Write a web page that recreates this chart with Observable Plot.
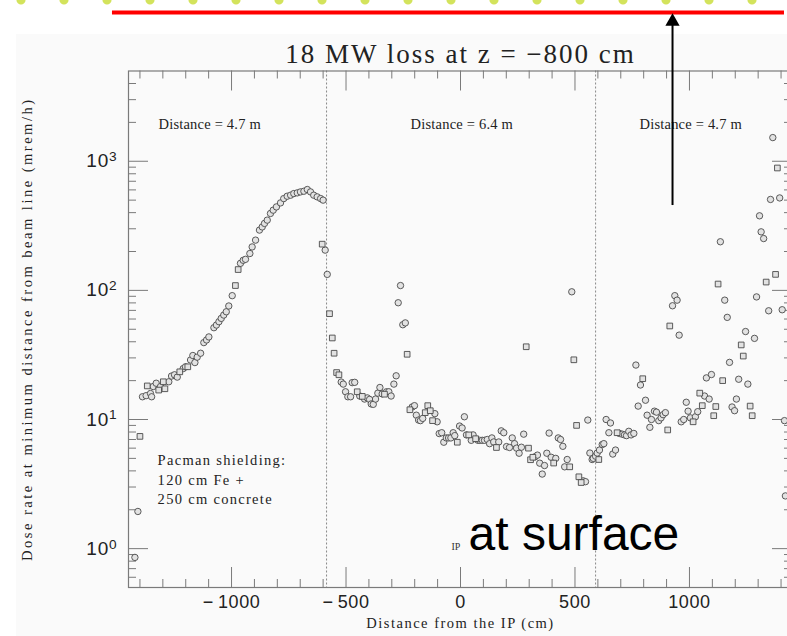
<!DOCTYPE html>
<html><head><meta charset="utf-8">
<script src="https://cdn.jsdelivr.net/npm/d3@7"></script>
<script src="https://cdn.jsdelivr.net/npm/@observablehq/plot@0.6"></script>
<style>
html,body{margin:0;padding:0;background:#fff;overflow:hidden;width:787px;height:636px;}
#wrap{position:relative;width:787px;height:636px;overflow:hidden;}
#panel{position:absolute;left:16px;top:34px;right:0;bottom:0;background:#fafafa;}
#chart{position:absolute;left:0;top:0;}
#dots{position:absolute;left:0;top:0;width:787px;height:6px;background-image:radial-gradient(circle at 21px 0px,#d3e35c 0,#d3e35c 4px,rgba(211,227,92,0) 5px);background-size:43px 6px;background-repeat:repeat-x;}
</style></head>
<body>
<div id="wrap"><div id="panel"></div><div id="chart"></div><div id="dots"></div></div>
<script>
// ---- data: distance from IP (cm), dose rate (mrem/h), marker shape (o = circle, s = square)
const dist = [
 -1422,-1409,-1400,-1389,-1373,-1368,-1354,-1349,-1342,-1329,-1318,-1310,-1298,-1291,-1274,-1262,-1249,-1237,-1226,-1211,
 -1201,-1191,-1179,-1169,-1160,-1150,-1135,-1121,-1109,-1099,-1077,-1066,-1055,-1045,-1034,-1023,-1012,-997,-983,-971,
 -961,-949,-939,-920,-910,-895,-878,-866,-856,-844,-830,-818,-804,-786,-772,-757,-742,-728,-713,-699,
 -684,-669,-655,-641,-626,-611,-600,
 -604,-591,-582,-572,-560,-552,-541,-531,-521,-512,-502,-492,-480,-473,-462,-451,-440,-429,-419,-407,
 -397,-390,-381,-371,-361,-352,-342,-332,-323,-313,-303,-291,-281,-272,-262,-252,-241,-233,-221,-211,
 -201,-193,-183,-175,-165,-154,-143,-132,-122,-112,-102,-93,-82,-73,-62,-52,-42,-32,-25,-14,
 -4,7,17,26,36,47,55,66,76,84,95,105,117,127,137,145,157,167,178,189,
 201,214,226,236,245,256,266,276,287,297,306,316,326,336,346,357,367,377,387,396,
 407,416,427,437,447,455,466,477,486,495,507,517,527,536,546,556,565,575,
 580,590,597,604,607,619,626,636,648,655,665,677,684,694,706,716,725,735,745,757,
 766,776,786,796,808,815,827,834,847,856,866,876,885,895,905,914,926,936,946,955,
 964,975,986,994,1004,1016,1026,1036,1045,1056,1066,1074,1086,1096,1106,1115,1125,1135,1145,1154,
 1165,1175,1186,1197,1205,1215,1226,1235,1245,1255,1265,1274,1284,1293,1306,1313,1324,1335,1346,1354,
 1364,1376,1384,1394,1405,1415,1419
];
const dose = [
 0.855,1.94,7.4,15.0,15.3,18.2,15.9,15.0,18.0,19.1,16.9,18.0,19.6,17.3,19.6,21.7,22.2,21.3,23.4,24.8,
 25.6,25.6,28.9,31.3,27.6,30.4,32.6,39.4,41.3,43.6,51.4,53.9,57.2,60.7,64.4,68.3,75.7,91,109,145,
 162,171,174,193,217,245,293,310,330,350,394,418,443,476,514,536,546,562,569,579,
 586,604,579,546,530,514,500,
 228,205,133,66,42.8,32.6,23.1,22.2,19.5,18.8,16.4,15.0,15.0,19.3,19.4,16.4,15.2,15.1,14.4,14.7,
 14.3,13.2,13.1,14.4,16.0,17.7,15.8,15.7,16.4,16.4,15.2,18.8,21.8,80.2,109,54.2,56,32,11.9,12.5,
 12.8,10.8,9.9,9.8,10.2,11.3,12.8,11.7,9.8,11.1,9.6,7.78,7.9,6.67,7.2,7.2,7.2,7.9,7.5,6.67,
 8.9,8.6,10.5,7.6,7.6,6.9,7.6,7.1,6.9,6.9,6.9,6.9,7.0,6.5,7.2,6.7,6.07,6.7,8.17,7.9,
 6.17,6.07,7.2,6.5,6.0,5.48,6.1,7.7,36.6,6.0,4.88,5.1,5.15,5.3,4.59,3.78,4.4,5.48,7.85,5.1,
 4.6,5.0,7.2,7.0,6.2,4.3,4.9,4.3,97.5,29,9.0,3.6,3.25,3.35,3.3,9.9,5.5,4.9,
 5.0,5.2,5.5,4.9,5.8,6.4,6.5,10.0,7.9,9.4,5.4,5.8,7.9,7.8,7.7,7.6,7.5,8.1,7.6,7.8,
 26.4,12.7,18.5,20.7,14.1,10.8,8.7,10.0,11.6,11.4,9.8,10.3,10.9,11.3,8.3,53,76,91,84,45,
 9.6,10.0,13.6,11.6,10.3,9.6,10.5,11.5,16.0,12.8,15.2,21,14.4,22.3,10.7,12.6,112,238,20,84,
 61.8,27.7,12.5,11.7,14.4,20.5,37.8,31,48,18.8,12.7,10.7,42.5,89,378,284,252,116,69.5,506,
 1525,133,887,520,70.8,9.8,2.56
];
const shape = [
 "oosoosoooosossooooso",
 "osoooooooooooooooooss".slice(0, 18) + "ss",
 "oooooooooooooooooooo",
 "ooooooo",
 "soosssssooooooosos oo".replace(" ", ""),
 "ooooooosoooooooooss o".replace(" ", ""),
 "ooooossssoooooooooos",
 "oooosoosoooooooosooo",
 "oooooooossssoooooooo",
 "soooooosossssoooooos".slice(0, 18),
 "ooosoooooooosooooooo",
 "ooosoooooooooossoooo",
 "ooooosoossoooossssoso".slice(0, 17) + "oso",
 "oooooossoossooooosoo",
 "ossoooo"
].join("").split("");

// vertical section boundaries (cm) and section labels
const boundaries = [-585, 590];
const sectionLabels = ["Distance = 4.7 m", "Distance = 6.4 m", "Distance = 4.7 m"];
const sectionLabelX = [-1319, -218, 782];
const sectionLabelY = 1930;
const noteLines = ["Pacman shielding:", "120 cm Fe +", "250 cm concrete"];
const noteY = [4.81, 3.37, 2.40];
const noteX = -1323;
const xTicks = [-1000, -500, 0, 500, 1000];
const yTicks = [1, 10, 100, 1000];
const title = "18 MW loss at z = \u2212800 cm";
const xLabel = "Distance from the IP (cm)";
const yLabel = "Dose rate at minimum distance from beam line (mrem/h)";
// slide annotations (in chart units): red surface line, arrow at z, "at surface" label
const surfaceY = 14190, surfaceX = [-1520, 1415];
const arrowX = 926, arrowFrom = 454, arrowTip = 12080;

const X0 = -1450, X1 = 1450, Y0 = 0.5, Y1 = 5000;
const W = 795, H = 636, mL = 128, mR = 3, mT = 70.5, mB = 49;
const plotW = W - mL - mR, plotH = H - mT - mB;
const cmPerPx = (X1 - X0) / plotW;
const decPerPx = Math.log10(Y1 / Y0) / plotH;
const up = px => Y0 * 10 ** (px * decPerPx);
const down = px => Y1 / 10 ** (px * decPerPx);

const data = dist.map((d, i) => ({x: d, y: dose[i], s: shape[i] || "o"}));
const majorX = d3.range(-1000, 1001, 500);
const minorX = d3.range(-1400, 1401, 100).filter(v => v % 500 !== 0);
const minorY = [];
for (const dec of [0.1, 1, 10, 100, 1000]) for (let k = 2; k <= 9; k++) { const v = k * dec; if (v > Y0 && v < Y1) minorY.push(v); }
const grey = "#7a7a7a";
const serif = "'Liberation Serif', 'DejaVu Serif', serif";
const sans = "'Liberation Sans', Arial, sans-serif";

const chart = Plot.plot({
  width: W, height: H, marginLeft: mL, marginRight: mR, marginTop: mT, marginBottom: mB,
  style: {maxWidth: "none", overflow: "visible", background: "transparent", fontFamily: sans},
  x: {domain: [X0, X1], axis: null},
  y: {type: "log", domain: [Y0, Y1], axis: null},
  marks: [
    Plot.ruleX(boundaries, {stroke: "#888", strokeDasharray: "2,2", strokeWidth: 1}),
    // ticks (inside frame, all four sides)
    Plot.ruleX(majorX, {x: d => d, y1: Y0, y2: up(20), stroke: grey}),
    Plot.ruleX(majorX, {x: d => d, y1: Y1, y2: down(20), stroke: grey}),
    Plot.ruleX(minorX, {x: d => d, y1: Y0, y2: up(8), stroke: grey}),
    Plot.ruleX(minorX, {x: d => d, y1: Y1, y2: down(8), stroke: grey}),
    Plot.ruleY(yTicks, {y: d => d, x1: X0, x2: X0 + 20 * cmPerPx, stroke: grey}),
    Plot.ruleY(yTicks, {y: d => d, x1: X1, x2: X1 - 20 * cmPerPx, stroke: grey}),
    Plot.ruleY(minorY, {y: d => d, x1: X0, x2: X0 + 8 * cmPerPx, stroke: grey}),
    Plot.ruleY(minorY, {y: d => d, x1: X1, x2: X1 - 8 * cmPerPx, stroke: grey}),
    Plot.frame({stroke: grey, strokeWidth: 1.2}),
    Plot.axisX(xTicks, {label: null, tickSize: 0, tickPadding: 8, fontSize: 18, fontFamily: sans, fill: "#222", tickFormat: d => d < 0 ? "\u2212\u2009" + Math.abs(d) : String(d)}),
    Plot.axisY(yTicks, {label: null, tickSize: 0, tickPadding: 11, fontSize: 19, fontFamily: sans, fill: "#222", tickFormat: d => String(Math.round(Math.log10(d)))}),
    // data
    Plot.dot(data.filter(d => d.s === "o"), {x: "x", y: "y", r: 3.2, stroke: "#4a4a4a", strokeWidth: 0.9, fill: "#e2e2e2"}),
    Plot.dot(data.filter(d => d.s === "s"), {x: "x", y: "y", r: 3.2, symbol: "square", stroke: "#4a4a4a", strokeWidth: 0.9, fill: "#e2e2e2"}),
    // in-chart text
    Plot.text(sectionLabels, {x: (d, i) => sectionLabelX[i], y: sectionLabelY, text: d => d, textAnchor: "start", fontSize: 14.5, fontFamily: serif, fill: "#222"}),
    Plot.text(noteLines, {x: noteX, y: (d, i) => noteY[i], text: d => d, textAnchor: "start", fontSize: 14.5, fontFamily: serif, fill: "#222"}),
    Plot.text(["IP"], {x: -20, y: 0.98, text: d => d, lineAnchor: "bottom", fontSize: 10, fontFamily: serif, fill: "#333"}),
    // titles
    Plot.text([title], {frameAnchor: "top", dy: -8, lineAnchor: "bottom", fontSize: 27, fontFamily: serif, fill: "#222"}),
    Plot.text([xLabel], {frameAnchor: "bottom", dy: 36, lineAnchor: "middle", fontSize: 14.5, fontFamily: serif, fill: "#222"}),
    Plot.text([yLabel], {frameAnchor: "left", dx: -101, rotate: -90, textAnchor: "middle", lineAnchor: "middle", fontSize: 14.5, fontFamily: serif, fill: "#222"}),
    // slide annotations
    Plot.ruleY([surfaceY], {x1: surfaceX[0], x2: surfaceX[1], stroke: "#ff0000", strokeWidth: 4}),
    Plot.ruleX([arrowX], {y1: arrowFrom, y2: arrowTip, stroke: "#000", strokeWidth: 2}),
    Plot.dot([arrowX], {x: d => d, y: arrowTip, symbol: "triangle", r: 5.3, fill: "#000", stroke: "none"}),
    Plot.text(["at surface"], {x: 35, y: 0.98, text: d => d, textAnchor: "start", lineAnchor: "bottom", fontSize: 48, fontFamily: sans, fill: "#000"})
  ]
});

// letter spacing to mimic the wide-set plotting fonts
const spacing = new Map([
  [title, 2.0], [xLabel, 1.5], [yLabel, 2.5],
  [noteLines[0], 1.3], [noteLines[1], 1.3], [noteLines[2], 1.3],
  [sectionLabels[0], 0.2], [sectionLabels[1], 0.2]
]);
d3.select(chart).selectAll("text").each(function () {
  const s = spacing.get(this.textContent);
  if (s != null) this.setAttribute("letter-spacing", s);
});
d3.select(chart).selectAll('g[aria-label="x-axis tick label"] text').attr("letter-spacing", 0.6);
// superscript exponents on the y tick labels (10^n)
d3.select(chart).selectAll('g[aria-label="y-axis tick label"] text').each(function () {
  const e = this.textContent;
  const t = d3.select(this);
  t.text(null).attr("letter-spacing", 0.8);
  t.append("tspan").text("10");
  t.append("tspan").attr("dy", "-0.45em").attr("font-size", "0.72em").text(e);
});
document.getElementById("chart").appendChild(chart);
</script>
</body></html>
